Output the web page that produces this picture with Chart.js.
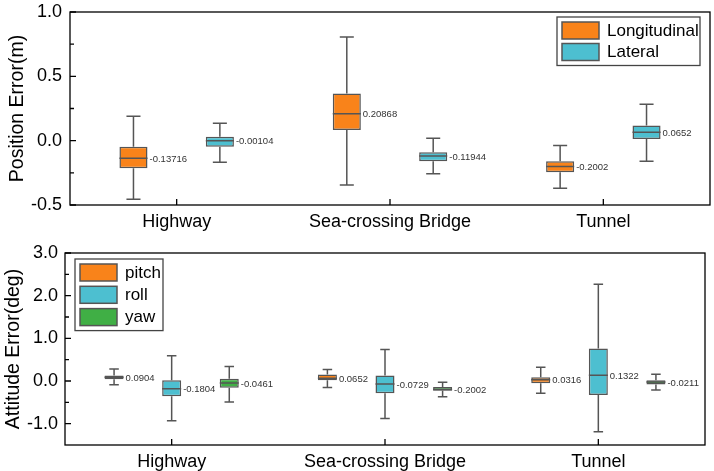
<!DOCTYPE html>
<html>
<head>
<meta charset="utf-8">
<script src="https://cdn.jsdelivr.net/npm/chart.js@4/dist/chart.umd.min.js"></script>
<style>
  html,body{margin:0;padding:0;background:#fff;}
  #wrap{position:relative;width:714px;height:471px;overflow:hidden;}
  .box{position:absolute;left:0;width:714px;}
</style>
</head>
<body>
<div id="wrap">
  <div class="box" style="top:0;height:235px"><canvas id="posChart"></canvas></div>
  <div class="box" style="top:235px;height:236px"><canvas id="attChart"></canvas></div>
</div>
<script>
/* ---- data ---- */
const SCENES = ['Highway', 'Sea-crossing Bridge', 'Tunnel'];

// position error (m)
const POS_YTICKS = [-0.5, 0, 0.5, 1.0];
const LONG_MIN = [-0.455, -0.344, -0.37];
const LONG_Q1  = [-0.214, 0.082, -0.245];
const LONG_MED = [-0.13716, 0.20868, -0.2002];
const LONG_Q3  = [-0.048, 0.367, -0.16];
const LONG_MAX = [0.19, 0.805, -0.038];

const LAT_MIN = [-0.167, -0.258, -0.16];
const LAT_Q1  = [-0.048, -0.16, 0.012];
const LAT_MED = [-0.00104, -0.11944, 0.0652];
const LAT_Q3  = [0.03, -0.09, 0.118];
const LAT_MAX = [0.136, 0.019, 0.284];

// attitude error (deg)
const ATT_YTICKS = [-1, 0, 1, 2, 3];
const PITCH_MIN = [-0.09, -0.15, -0.29];
const PITCH_Q1  = [0.04, 0.02, -0.05];
const PITCH_MED = [0.0904, 0.0652, 0.0316];
const PITCH_Q3  = [0.13, 0.15, 0.09];
const PITCH_MAX = [0.28, 0.27, 0.32];

const ROLL_MIN = [-0.93, -0.88, -1.19];
const ROLL_Q1  = [-0.36, -0.29, -0.33];
const ROLL_MED = [-0.1804, -0.0729, 0.1322];
const ROLL_Q3  = [0.02, 0.13, 0.76];
const ROLL_MAX = [0.59, 0.74, 2.27];

const YAW_MIN = [-0.49, -0.37, -0.21];
const YAW_Q1  = [-0.16, -0.23, -0.08];
const YAW_MED = [-0.0461, -0.2002, -0.0211];
const YAW_Q3  = [0.05, -0.14, 0.02];
const YAW_MAX = [0.34, -0.03, 0.16];

const ORANGE = '#f9831a', CYAN = '#4dbfd0', GREEN = '#40af45', EDGE = '#555555';
const FONT = 'Liberation Sans, Arial, sans-serif';
Chart.defaults.font.family = FONT;
Chart.defaults.color = '#000';

function boxSet(label, color, q1, q3, min, med, max){
  return {label, data: q1.map((v,i)=>[v, q3[i]]), stat: {min, med, max},
    backgroundColor: color, borderColor: EDGE, borderWidth: 1.5, borderSkipped: false};
}

// whiskers, caps, medians and median labels, placed from the bar elements + y scale
const boxPlot = {
  id: 'boxPlot',
  afterDatasetsDraw(chart){
    const {ctx, scales: {y}} = chart;
    ctx.save();
    ctx.strokeStyle = EDGE; ctx.lineWidth = 1.5;
    chart.data.datasets.forEach((ds, di) => {
      const meta = chart.getDatasetMeta(di);
      meta.data.forEach((bar, i) => {
        const [q1, q3] = ds.data[i];
        const x = bar.x, hw = bar.width / 2, cw = bar.width / 4;
        const pMin = y.getPixelForValue(ds.stat.min[i]), pMax = y.getPixelForValue(ds.stat.max[i]);
        const pQ1 = y.getPixelForValue(q1), pQ3 = y.getPixelForValue(q3);
        const pMed = y.getPixelForValue(ds.stat.med[i]);
        ctx.beginPath();
        ctx.moveTo(x, pQ3); ctx.lineTo(x, pMax);
        ctx.moveTo(x - cw, pMax); ctx.lineTo(x + cw, pMax);
        ctx.moveTo(x, pQ1); ctx.lineTo(x, pMin);
        ctx.moveTo(x - cw, pMin); ctx.lineTo(x + cw, pMin);
        ctx.moveTo(x - hw, pMed); ctx.lineTo(x + hw, pMed);
        ctx.stroke();
        ctx.fillStyle = '#333';
        ctx.font = '9.5px ' + FONT;
        ctx.textAlign = 'left'; ctx.textBaseline = 'middle';
        ctx.fillText(String(ds.stat.med[i]), x + hw + 2, pMed + 1);
      });
    });
    ctx.restore();
  }
};

// closed frame with inward major/minor ticks
const frame = {
  id: 'frame',
  afterDraw(chart){
    const {ctx, chartArea: a, scales: {x, y}} = chart;
    ctx.save();
    ctx.strokeStyle = '#000'; ctx.lineWidth = 1.3;
    ctx.strokeRect(a.left, a.top, a.right - a.left, a.bottom - a.top);
    ctx.beginPath();
    y.ticks.forEach((t, i) => {
      const py = y.getPixelForValue(t.value);
      ctx.moveTo(a.left, py); ctx.lineTo(a.left + 6, py);
      if (i < y.ticks.length - 1) {
        const pm = y.getPixelForValue((t.value + y.ticks[i + 1].value) / 2);
        ctx.moveTo(a.left, pm); ctx.lineTo(a.left + 4, pm);
      }
    });
    x.ticks.forEach((t, i) => {
      const px = x.getPixelForTick(i);
      ctx.moveTo(px, a.bottom); ctx.lineTo(px, a.bottom - 6);
    });
    ctx.stroke();
    ctx.restore();
  }
};

// framed legend inside the plot
const boxLegend = {
  id: 'boxLegend',
  afterDraw(chart, args, o){
    const {ctx, chartArea: a} = chart;
    const ds = chart.data.datasets;
    const left = o.side === 'right' ? a.right - o.dx - o.w : a.left + o.dx;
    const top = a.top + o.dy;
    const h = o.pad * 2 + ds.length * o.row - (o.row - 17);
    ctx.save();
    ctx.fillStyle = '#fff';
    ctx.fillRect(left, top, o.w, h);
    ctx.strokeStyle = '#444'; ctx.lineWidth = 1.3;
    ctx.strokeRect(left, top, o.w, h);
    ds.forEach((d, i) => {
      const ry = top + o.pad + i * o.row;
      ctx.fillStyle = d.backgroundColor;
      ctx.fillRect(left + 5, ry, 37, 17);
      ctx.strokeStyle = EDGE; ctx.lineWidth = 1.5;
      ctx.strokeRect(left + 5, ry, 37, 17);
      ctx.fillStyle = '#000';
      ctx.font = '17px ' + FONT;
      ctx.textAlign = 'left'; ctx.textBaseline = 'middle';
      ctx.fillText(d.label, left + 50, ry + 9);
    });
    ctx.restore();
  }
};

function makeChart(id, datasets, o){
  return new Chart(document.getElementById(id), {
    type: 'bar',
    data: {labels: SCENES, datasets},
    plugins: [boxPlot, frame, boxLegend],
    options: {
      responsive: true, maintainAspectRatio: false, animation: false,
      layout: {padding: {top: o.padTop, right: o.padRight, left: 0, bottom: 0}},
      datasets: {bar: {categoryPercentage: 0.81, barPercentage: o.barPct}},
      plugins: {
        legend: {display: false}, tooltip: {enabled: false},
        boxLegend: o.legend
      },
      scales: {
        x: {
          grid: {display: false, drawTicks: false}, border: {display: false},
          ticks: {font: {size: 18}, color: '#000', padding: o.xPad, maxRotation: 0, autoSkip: false},
          afterFit: s => { s.height = o.xHeight; }
        },
        y: {
          min: o.min, max: o.max,
          grid: {display: false, drawTicks: false}, border: {display: false},
          afterBuildTicks: s => { s.ticks = o.yticks.map(v => ({value: v})); },
          ticks: {font: {size: 18, lineHeight: 0.2}, color: '#000', padding: o.yPad, callback: v => Number(v).toFixed(1)},
          title: {display: true, text: o.title, font: {size: 19.5}, color: '#000', padding: {top: o.titleTop, bottom: 0}},
          afterFit: s => { s.width = o.yWidth; }
        }
      }
    }
  });
}

makeChart('posChart', [
  boxSet('Longitudinal', ORANGE, LONG_Q1, LONG_Q3, LONG_MIN, LONG_MED, LONG_MAX),
  boxSet('Lateral', CYAN, LAT_Q1, LAT_Q3, LAT_MIN, LAT_MED, LAT_MAX)
], {min: -0.5, max: 1.0, yticks: POS_YTICKS, title: 'Position Error(m)',
    padTop: 12, padRight: 4, yWidth: 70, xHeight: 30, xPad: 6, yPad: 8, titleTop: 6, barPct: 0.325,
    legend: {side: 'right', dx: 10, dy: 5, w: 143, pad: 5, row: 21.5}});

makeChart('attChart', [
  boxSet('pitch', ORANGE, PITCH_Q1, PITCH_Q3, PITCH_MIN, PITCH_MED, PITCH_MAX),
  boxSet('roll', CYAN, ROLL_Q1, ROLL_Q3, ROLL_MIN, ROLL_MED, ROLL_MAX),
  boxSet('yaw', GREEN, YAW_Q1, YAW_Q3, YAW_MIN, YAW_MED, YAW_MAX)
], {min: -1.5, max: 3.0, yticks: ATT_YTICKS, title: 'Attitude Error(deg)',
    padTop: 18, padRight: 9, yWidth: 65, xHeight: 26, xPad: 6, yPad: 7, titleTop: 2, barPct: 0.33,
    legend: {side: 'left', dx: 10, dy: 6, w: 88, pad: 5, row: 22.3}});
</script>
</body>
</html>
